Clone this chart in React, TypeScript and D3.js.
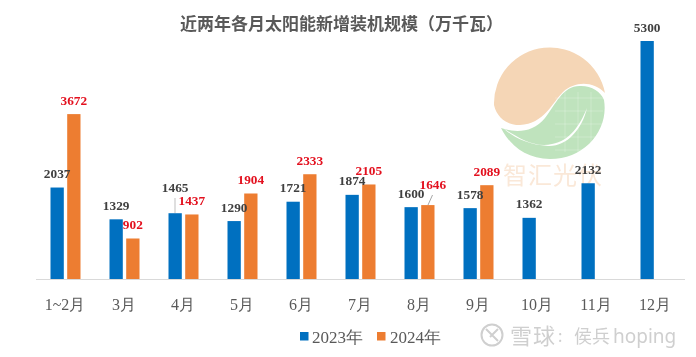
import React from "react";
import * as d3 from "d3";

const categories = ["1~2月", "3月", "4月", "5月", "6月", "7月", "8月", "9月", "10月", "11月", "12月"];
const values2023 = [2037, 1329, 1465, 1290, 1721, 1874, 1600, 1578, 1362, 2132, 5300];
const values2024 = [3672, 902, 1437, 1904, 2333, 2105, 1646, 2089];
const seriesNames = ["2023年", "2024年"];
const titleText = "近两年各月太阳能新增装机规模（万千瓦）";
const BLUE = "#0070c0";
const ORANGE = "#ed7d31";
const SERIF = "'Liberation Serif','Times New Roman',serif";
const CJK = "'Noto Sans CJK SC','Noto Sans',sans-serif";

const x = d3.scaleBand<string>().domain(categories).range([36, 685]);
const y = d3.scaleLinear().domain([0, 5300]).range([279, 41]);
const BAR = 13.3;
const GAP = 3.4;

const labelLift = (s: number, i: number) => {
  if (s === 0 && i === 2) return 21;
  if (s === 1 && i === 6) return 16;
  return 9.5;
};
const barCenter = (s: number, i: number) =>
  (x(categories[i]) as number) + x.bandwidth() / 2 + (s === 0 ? -(BAR + GAP) / 2 : (BAR + GAP) / 2);

const Bars = ({ vals, s }: { vals: number[]; s: number }) => (
  <g>
    {vals.map((v, i) => (
      <rect key={i} x={barCenter(s, i) - BAR / 2} y={y(v)} width={BAR} height={y(0) - y(v)} fill={s === 0 ? BLUE : ORANGE} />
    ))}
  </g>
);

const Labels = ({ vals, s }: { vals: number[]; s: number }) => (
  <g>
    {vals.map((v, i) => (
      <text
        key={i}
        x={barCenter(s, i) + (s === 1 && i === 6 ? 5 : 0)}
        y={y(v) - labelLift(s, i)}
        textAnchor="middle"
        fontFamily={SERIF}
        fontWeight={700}
        fontSize={13.3}
        fill={s === 0 ? "#404040" : "#e3101e"}
      >
        {v}
      </text>
    ))}
  </g>
);

const Logo = () => (
  <g>
    <path
      d="M494 105 A56 56 0 0 1 605 93 C592 80 574 82 563 92 C552 103 544 124 520 125 C507 125 497 118 494 105 Z"
      fill="#f5d6b6"
    />
    <path
      d="M501 128 C515 133 533 133 545 118 C556 104 563 85 581 86 C592 86 601 92 604 100 C609 130 585 159 550 159 C527 159 510 146 501 128 Z"
      fill="#bfe3bd"
    />
    <path d="M503 128 C520 139 536 148 552 144 C570 141 580 125 587 108 C582 130 566 147 548 146 C530 145 515 139 503 128 Z" fill="#fff" />
    <g stroke="#fff" strokeOpacity={0.4} strokeWidth={0.6}>
      {[565, 578, 591].map((v) => <line key={v} x1={v} x2={v} y1={92} y2={152} />)}
      {[98, 111, 124, 137, 150].map((v) => <line key={v} x1={555} x2={603} y1={v} y2={v} />)}
    </g>
    <text x={503} y={184} fontFamily="'Noto Sans CJK SC',serif" fontSize={24} letterSpacing={1} fill="#fae8d8">智汇光伏</text>
  </g>
);

const Watermark = () => (
  <g fill="#cfcfcf" fontFamily={CJK}>
    <circle cx={492} cy={335} r={10.5} fill="none" stroke="#cfcfcf" strokeWidth={2} />
    <path d="M486 329 L498 341 M498 329 L490 337" stroke="#cfcfcf" strokeWidth={2} fill="none" />
    <text x={510} y={344} fontSize={22} letterSpacing={1}>雪球</text>
    <text x={558} y={342} fontSize={16}>:</text>
    <text x={574} y={343} fontSize={18}>侯兵</text>
    <text x={613} y={343} fontSize={19} fontFamily="'Noto Sans',sans-serif">hoping</text>
  </g>
);

export default function App() {
  return (
    <svg
      width={696}
      height={357}
      viewBox="0 0 696 357"
      style={{ position: "absolute", left: 0, top: 0, background: "#fff", filter: "blur(0.35px)" }}
    >
      <Logo />
      <text x={180} y={30} fontFamily={CJK} fontWeight={700} fontSize={17} fill="#595959">
        {titleText}
      </text>
      <line x1={x.range()[0]} x2={x.range()[1]} y1={279.5} y2={279.5} stroke="#d9d9d9" strokeWidth={1} />
      <Bars vals={values2023} s={0} />
      <Bars vals={values2024} s={1} />
      <Labels vals={values2023} s={0} />
      <Labels vals={values2024} s={1} />
      <line x1={175} x2={175} y1={198} y2={213} stroke="#bfbfbf" />
      <line x1={432.5} x2={428} y1={195} y2={205} stroke="#a6a6a6" />
      {categories.map((c) => (
        <text
          key={c}
          x={(x(c) as number) + x.bandwidth() / 2 - 0.5}
          y={310}
          textAnchor="middle"
          fontFamily={SERIF}
          fontSize={16}
          fill="#595959"
        >
          {c}
        </text>
      ))}
      {seriesNames.map((n, i) => (
        <g key={n}>
          <rect x={300 + i * 77} y={332} width={8.5} height={8.5} fill={i === 0 ? BLUE : ORANGE} />
          <text x={312 + i * 78} y={343} fontFamily={SERIF} fontSize={17} fill="#595959">
            {n}
          </text>
        </g>
      ))}
      <Watermark />
    </svg>
  );
}
